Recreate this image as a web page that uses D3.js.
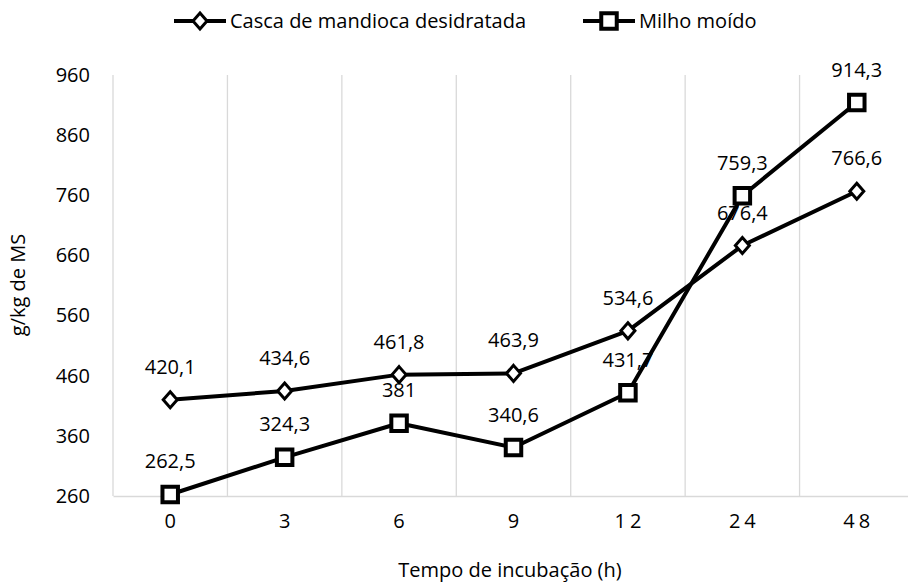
<!DOCTYPE html>
<html>
<head>
<meta charset="utf-8">
<script src="https://cdn.jsdelivr.net/npm/d3@7"></script>
<style>
    body { margin: 0; background: #fff; }
    text { font-family: "Open Sans", sans-serif; fill: #000; }
</style>
</head>
<body>
<div id="plot"></div>
<script>
var categories = ["0", "3", "6", "9", "12", "24", "48"];
var casca = [420.1, 434.6, 461.8, 463.9, 534.6, 676.4, 766.6];
var milho = [262.5, 324.3, 381, 340.6, 431.7, 759.3, 914.3];
var yTicks = [260, 360, 460, 560, 660, 760, 860, 960];
var seriesNames = ["Casca de mandioca desidratada", "Milho moído"];

var W = 908, H = 583
    , margin = { top: 75, right: -6, bottom: 87, left: 113 }
    , width = W - margin.left - margin.right
    , height = H - margin.top - margin.bottom
    , fontSize = "20px";

var fmt = function (v) { return String(v).replace(".", ","); };

var svg = d3.select("#plot").append("svg")
    .attr("width", W)
    .attr("height", H);

var xScale = d3.scaleBand()
    .domain(categories)
    .range([0, width]);

var yScale = d3.scaleLinear()
    .domain([260, 960])
    .range([height, 0]);

var g = svg.append("g")
    .attr("transform", "translate(" + margin.left + "," + margin.top + ")");

// vertical gridlines between categories
g.append("g").selectAll("line")
    .data(categories)
    .enter().append("line")
    .attr("x1", function (d) { return xScale(d); })
    .attr("x2", function (d) { return xScale(d); })
    .attr("y1", 0)
    .attr("y2", height)
    .style("stroke", "#d9d9d9")
    .style("stroke-width", 1.3);

// x axis
var xAxis = g.append("g")
    .attr("transform", "translate(0," + height + ")")
    .call(d3.axisBottom(xScale).tickSize(0).tickPadding(18));
xAxis.select(".domain").style("stroke", "#d9d9d9").style("stroke-width", 1.3);
xAxis.selectAll("text")
    .style("font-size", fontSize)
    .style("letter-spacing", "4px")
    .attr("dx", "2px");

// y axis
var yAxis = g.append("g")
    .call(d3.axisLeft(yScale).tickValues(yTicks).tickSize(0).tickPadding(23));
yAxis.select(".domain").remove();
yAxis.selectAll("text").style("font-size", fontSize);

// axis titles
svg.append("text")
    .attr("x", 510)
    .attr("y", 577)
    .attr("text-anchor", "middle")
    .style("font-size", fontSize)
    .text("Tempo de incubação (h)");

svg.append("text")
    .attr("transform", "translate(25,285) rotate(-90)")
    .attr("text-anchor", "middle")
    .style("font-size", fontSize)
    .text("g/kg de MS");

var cx = function (d, i) { return xScale(categories[i]) + xScale.bandwidth() / 2; };

var line = d3.line()
    .x(cx)
    .y(function (d) { return yScale(d); });

var diamond = "M0,-8L7,0L0,8L-7,0Z";
var square = d3.symbol().type(d3.symbolSquare).size(240)();

function drawSeries(data, sym, sw) {
    g.append("path")
        .datum(data)
        .attr("d", line)
        .style("fill", "none")
        .style("stroke", "#000")
        .style("stroke-width", 4)
        .style("stroke-linejoin", "round");

    g.append("g").selectAll("path")
        .data(data)
        .enter().append("path")
        .attr("d", sym)
        .attr("transform", function (d, i) {
            return "translate(" + cx(d, i) + "," + yScale(d) + ")";
        })
        .style("fill", "#fff")
        .style("stroke", "#000")
        .style("stroke-width", sw);
}

drawSeries(casca, diamond, 3);
drawSeries(milho, square, 4);

function drawLabels(data) {
    g.append("g").selectAll("text")
        .data(data)
        .enter().append("text")
        .attr("x", cx)
        .attr("y", function (d) { return yScale(d) - 26; })
        .attr("text-anchor", "middle")
        .style("font-size", fontSize)
        .text(fmt);
}

drawLabels(casca);
drawLabels(milho);

// legend
var legend = svg.append("g").attr("transform", "translate(0,21)");
var items = [
    { x: 174, name: seriesNames[0], sym: diamond, sw: 3 },
    { x: 583, name: seriesNames[1], sym: square, sw: 4 }
];
items.forEach(function (it) {
    legend.append("line")
        .attr("x1", it.x).attr("x2", it.x + 52)
        .attr("y1", 0).attr("y2", 0)
        .style("stroke", "#000")
        .style("stroke-width", 4);
    legend.append("path")
        .attr("d", it.sym)
        .attr("transform", "translate(" + (it.x + 26) + ",0)")
        .style("fill", "#fff")
        .style("stroke", "#000")
        .style("stroke-width", it.sw);
    legend.append("text")
        .attr("x", it.x + 56)
        .attr("y", 0)
        .attr("dy", "0.35em")
        .style("font-size", fontSize)
        .text(it.name);
});
</script>
</body>
</html>
